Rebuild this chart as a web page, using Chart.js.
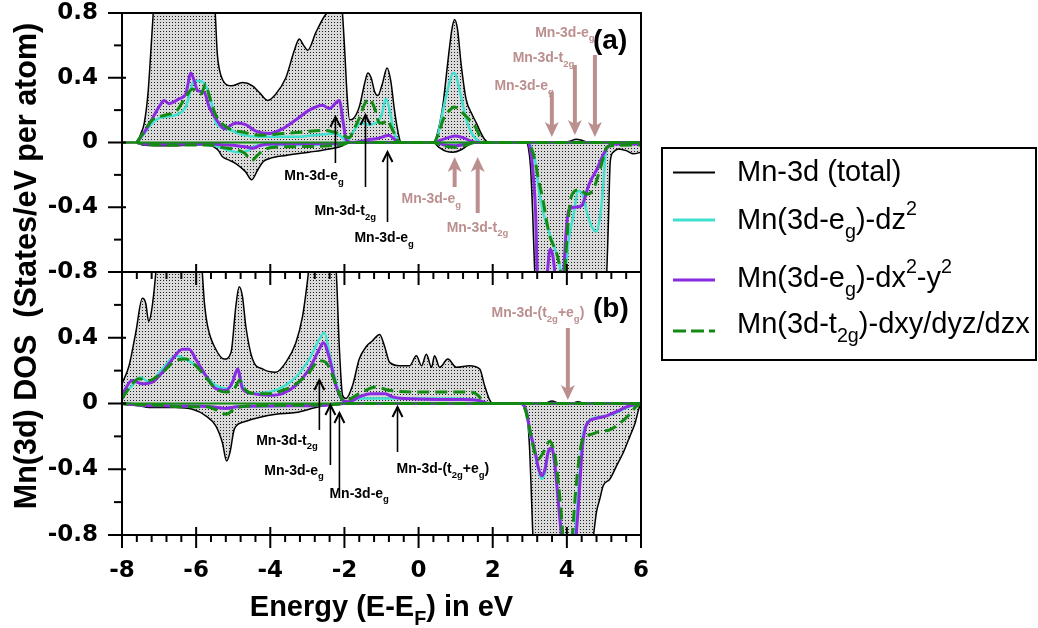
<!DOCTYPE html>
<html><head><meta charset="utf-8">
<script src="https://cdn.jsdelivr.net/npm/chart.js@4.4.0/dist/chart.umd.min.js"></script>
<style>
html,body{margin:0;padding:0;background:#fff;}
#wrap{position:relative;width:1038px;height:628px;overflow:hidden;}
canvas{position:absolute;left:0;top:0;}
</style></head><body>
<div id="wrap"><canvas id="ca" width="1038" height="628"></canvas><canvas id="cb" width="1038" height="628"></canvas></div>
<script>
// ---------- tick labels ----------
const xTicks = [-8, -6, -4, -2, 0, 2, 4, 6];
const yTicksA = [0.8, 0.4, 0, -0.4, -0.8];
const yTicksB = [0.4, 0, -0.4, -0.8];
const seriesNames = ['Mn-3d (total)', 'Mn(3d-eg)-dz2', 'Mn(3d-eg)-dx2-y2', 'Mn(3d-t2g)-dxy/dyz/dzx'];

// ---------- panel (a) : [energy eV, DOS] ----------
const aTotalUp = [[-8,0],[-7.6,0],[-7.5,0.05],[-7.4,0.12],[-7.3,0.3],[-7.22,0.57],[-7.15,0.82],[-7.0,1.15],[-6.5,1.3],[-6.0,1.3],[-5.6,1.1],[-5.49,0.82],[-5.43,0.55],[-5.38,0.46],[-5.24,0.37],[-5.05,0.35],[-4.75,0.37],[-4.48,0.35],[-4.3,0.31],[-4.07,0.26],[-3.85,0.30],[-3.58,0.40],[-3.35,0.57],[-3.22,0.64],[-3.1,0.6],[-2.99,0.57],[-2.77,0.68],[-2.54,0.78],[-2.36,0.83],[-2.2,0.9],[-2.08,0.86],[-2.0,0.6],[-1.93,0.3],[-1.86,0.14],[-1.75,0.15],[-1.6,0.22],[-1.45,0.37],[-1.37,0.43],[-1.28,0.4],[-1.18,0.31],[-1.1,0.29],[-0.98,0.36],[-0.85,0.46],[-0.75,0.38],[-0.65,0.2],[-0.55,0.06],[-0.47,0],[0.4,0],[0.5,0.05],[0.65,0.22],[0.8,0.52],[0.9,0.7],[0.97,0.76],[1.05,0.7],[1.15,0.48],[1.28,0.27],[1.45,0.17],[1.56,0.12],[1.68,0.06],[1.78,0.02],[1.9,0],[3.9,0],[4.1,0.01],[4.25,0.02],[4.45,0.01],[4.6,0],[6,0]];
const aTotalDn = [[-8,0],[-7.6,0],[-7.45,-0.015],[-7.0,-0.02],[-6.5,-0.02],[-6.0,-0.015],[-5.6,-0.02],[-5.4,-0.05],[-5.29,-0.088],[-5.1,-0.11],[-4.93,-0.13],[-4.67,-0.18],[-4.5,-0.23],[-4.34,-0.17],[-4.2,-0.12],[-4.03,-0.1],[-3.58,-0.08],[-2.95,-0.06],[-2.41,-0.04],[-2.05,-0.02],[-1.9,0],[0.4,0],[0.55,-0.03],[0.75,-0.055],[0.93,-0.06],[1.15,-0.045],[1.35,-0.015],[1.5,0],[2.9,0],[2.96,-0.03],[3.02,-0.15],[3.08,-0.45],[3.14,-0.85],[3.25,-1.2],[4.0,-1.4],[4.9,-1.2],[5.05,-0.95],[5.12,-0.5],[5.17,-0.12],[5.25,-0.06],[5.4,-0.04],[5.6,-0.05],[5.8,-0.07],[6,-0.06]];
const aDz2Up = [[-7.6,0],[-7.45,0.04],[-7.27,0.096],[-7.0,0.15],[-6.55,0.17],[-6.28,0.22],[-6.05,0.38],[-5.92,0.38],[-5.74,0.35],[-5.6,0.26],[-5.47,0.12],[-5.11,0.08],[-4.75,0.047],[-4.3,0.035],[-3.31,0.035],[-2.6,0.05],[-2.23,0.055],[-2.05,0.03],[-1.955,0.01],[-1.85,0.03],[-1.7,0.09],[-1.55,0.12],[-1.35,0.11],[-1.15,0.12],[-1.0,0.17],[-0.88,0.27],[-0.78,0.2],[-0.68,0.08],[-0.55,0.01],[-0.47,0],[0.4,0],[0.5,0.03],[0.66,0.2],[0.8,0.34],[0.93,0.43],[1.0,0.42],[1.11,0.32],[1.29,0.14],[1.45,0.05],[1.56,0.02],[1.7,0],[6,0]];
const aDz2Dn = [[-7.6,0],[-7.4,-0.01],[-6.5,-0.01],[-5.6,-0.015],[-5.35,-0.03],[-5.1,-0.05],[-4.85,-0.06],[-4.6,-0.05],[-4.45,-0.025],[-4.2,-0.015],[-3.0,-0.015],[-2.1,-0.01],[-1.9,0],[0.4,0],[0.6,-0.01],[1.0,-0.015],[1.4,0],[2.95,0],[3.05,-0.03],[3.15,-0.12],[3.25,-0.3],[3.35,-0.42],[3.5,-0.54],[3.65,-0.64],[3.8,-0.75],[3.9,-0.9],[3.96,-0.8],[4.05,-0.6],[4.17,-0.46],[4.31,-0.3],[4.44,-0.33],[4.55,-0.44],[4.7,-0.53],[4.8,-0.55],[4.9,-0.45],[4.97,-0.3],[5.05,-0.06],[5.15,-0.02],[5.3,-0.01],[6,-0.01]];
const aDx2Up = [[-7.6,0],[-7.35,0.08],[-7.0,0.22],[-6.865,0.26],[-6.73,0.24],[-6.46,0.27],[-6.28,0.30],[-6.14,0.43],[-6.05,0.38],[-5.96,0.32],[-5.78,0.31],[-5.65,0.22],[-5.42,0.13],[-5.24,0.085],[-4.93,0.12],[-4.66,0.11],[-4.39,0.07],[-4.03,0.055],[-3.67,0.085],[-3.31,0.14],[-2.95,0.20],[-2.59,0.23],[-2.41,0.21],[-2.14,0.26],[-2.03,0.12],[-1.955,0.02],[-1.8,0],[-1.5,0.01],[-1.3,0.02],[-1.1,0.025],[-0.9,0.04],[-0.8,0.045],[-0.65,0.02],[-0.5,0],[0.45,0],[0.6,0.015],[0.8,0.03],[1.0,0.04],[1.2,0.03],[1.4,0.01],[1.6,0],[6,0]];
const aDx2Dn = [[-7.6,0],[-7.4,-0.01],[-5.6,-0.01],[-5.2,-0.015],[-4.9,-0.02],[-4.6,-0.03],[-4.45,-0.035],[-4.3,-0.02],[-4.0,-0.01],[-2.0,-0.005],[-1.9,0],[0.5,0],[0.7,-0.015],[1.0,-0.02],[1.3,-0.01],[1.5,0],[2.95,0],[3.02,-0.05],[3.1,-0.22],[3.16,-0.45],[3.2,-0.8],[3.28,-1.0],[3.45,-0.85],[3.55,-0.66],[3.62,-0.7],[3.7,-0.85],[3.8,-1.0],[3.9,-0.85],[3.98,-0.55],[4.05,-0.42],[4.2,-0.4],[4.4,-0.39],[4.5,-0.33],[4.58,-0.27],[4.7,-0.21],[4.8,-0.17],[4.95,-0.09],[5.1,-0.03],[5.3,-0.01],[6,-0.01]];
const aT2gUp = [[-7.6,0],[-7.4,0.07],[-7.18,0.14],[-6.82,0.17],[-6.55,0.19],[-6.28,0.28],[-6.1,0.33],[-5.87,0.30],[-5.74,0.36],[-5.65,0.29],[-5.47,0.17],[-5.11,0.085],[-4.75,0.065],[-4.3,0.045],[-3.67,0.055],[-3.13,0.065],[-2.59,0.075],[-2.14,0.055],[-1.865,0.03],[-1.75,0.08],[-1.6,0.15],[-1.45,0.24],[-1.33,0.27],[-1.2,0.22],[-1.05,0.12],[-0.95,0.12],[-0.85,0.14],[-0.75,0.1],[-0.62,0.04],[-0.5,0],[0.4,0],[0.55,0.06],[0.66,0.14],[0.8,0.19],[0.97,0.22],[1.1,0.2],[1.29,0.16],[1.45,0.12],[1.55,0.09],[1.69,0.02],[1.8,0],[6,0]];
const aT2gDn = [[-7.6,0],[-7.4,-0.01],[-6.5,-0.015],[-5.6,-0.015],[-5.3,-0.03],[-4.9,-0.045],[-4.7,-0.065],[-4.5,-0.11],[-4.35,-0.08],[-4.2,-0.05],[-3.9,-0.03],[-3.0,-0.025],[-2.4,-0.02],[-2.0,-0.01],[-1.9,0],[0.4,0],[0.6,-0.015],[0.95,-0.03],[1.3,-0.015],[1.5,0],[2.95,0],[3.05,-0.04],[3.15,-0.12],[3.22,-0.21],[3.36,-0.36],[3.45,-0.48],[3.54,-0.58],[3.72,-0.68],[3.82,-0.78],[3.9,-0.9],[4.0,-0.6],[4.08,-0.38],[4.17,-0.31],[4.35,-0.29],[4.53,-0.32],[4.71,-0.29],[4.89,-0.17],[5.0,-0.08],[5.07,-0.03],[5.2,-0.02],[6,-0.015]];

// ---------- panel (b) ----------
const bTotalUp = [[-8,0.12],[-7.81,0.23],[-7.63,0.43],[-7.45,0.64],[-7.36,0.61],[-7.28,0.5],[-7.18,0.6],[-7.07,0.85],[-7.0,1.1],[-6.5,1.4],[-6.0,1.2],[-5.85,0.85],[-5.78,0.62],[-5.69,0.47],[-5.47,0.33],[-5.24,0.27],[-5.06,0.31],[-4.93,0.59],[-4.84,0.71],[-4.75,0.65],[-4.66,0.47],[-4.48,0.27],[-4.21,0.21],[-3.85,0.19],[-3.58,0.25],[-3.31,0.37],[-3.13,0.53],[-2.99,0.76],[-2.9,0.95],[-2.6,1.2],[-2.3,1.0],[-2.22,0.8],[-2.135,0.33],[-2.05,0.05],[-1.955,0.03],[-1.78,0.11],[-1.6,0.27],[-1.4,0.35],[-1.25,0.38],[-1.05,0.42],[-0.92,0.35],[-0.78,0.25],[-0.51,0.23],[-0.24,0.23],[-0.06,0.29],[0.08,0.23],[0.21,0.3],[0.35,0.22],[0.43,0.29],[0.57,0.22],[0.79,0.27],[1.02,0.22],[1.38,0.23],[1.65,0.21],[1.78,0.11],[1.92,0.02],[2.0,0],[3.4,0],[3.6,0.015],[3.8,0],[4.1,0],[4.3,0.01],[4.5,0],[6,0]];
const bTotalDn = [[-8,-0.005],[-7.54,-0.014],[-7.27,-0.024],[-6.6,-0.025],[-6.1,-0.035],[-5.74,-0.075],[-5.47,-0.136],[-5.29,-0.24],[-5.18,-0.35],[-5.09,-0.30],[-4.97,-0.156],[-4.75,-0.115],[-4.3,-0.085],[-3.85,-0.065],[-3.31,-0.055],[-2.77,-0.024],[-2.41,-0.008],[-2.05,0],[2.75,0],[2.85,-0.02],[2.91,-0.055],[2.96,-0.15],[3.0,-0.3],[3.05,-0.6],[3.09,-0.85],[3.15,-1.1],[4.0,-1.3],[4.6,-1.0],[4.72,-0.8],[4.8,-0.66],[4.89,-0.58],[4.98,-0.5],[5.16,-0.46],[5.34,-0.38],[5.52,-0.3],[5.7,-0.2],[5.84,-0.12],[5.97,-0.014],[6,-0.01]];
const bDz2Up = [[-8,0.04],[-7.72,0.11],[-7.5,0.16],[-7.27,0.13],[-6.91,0.21],[-6.55,0.29],[-6.28,0.27],[-6.01,0.23],[-5.74,0.17],[-5.47,0.11],[-5.11,0.09],[-4.88,0.21],[-4.75,0.11],[-4.48,0.06],[-4.03,0.07],[-3.67,0.10],[-3.31,0.16],[-2.95,0.27],[-2.68,0.39],[-2.54,0.43],[-2.41,0.31],[-2.23,0.13],[-2.05,0.02],[-1.9,0.01],[-1.6,0.03],[-1.0,0.03],[0,0.03],[1.0,0.03],[1.6,0.02],[1.9,0],[6,0]];
const bDz2Dn = [[-8,0],[-7.5,-0.01],[-6.5,-0.015],[-5.6,-0.02],[-5.2,-0.03],[-4.9,-0.02],[-4.0,-0.015],[-2.5,-0.01],[-2.0,0],[2.75,0],[2.9,-0.05],[3.0,-0.18],[3.14,-0.3],[3.23,-0.4],[3.32,-0.46],[3.41,-0.42],[3.5,-0.3],[3.59,-0.27],[3.68,-0.38],[3.77,-0.58],[3.86,-0.8],[3.95,-1.0],[4.1,-1.0],[4.22,-0.8],[4.31,-0.54],[4.4,-0.24],[4.53,-0.125],[4.8,-0.085],[5.07,-0.075],[5.34,-0.055],[5.61,-0.025],[5.88,-0.005],[6,0]];
const bDx2Up = [[-8,0.05],[-7.73,0.14],[-7.46,0.12],[-7.18,0.13],[-6.91,0.19],[-6.64,0.27],[-6.37,0.33],[-6.19,0.33],[-6.01,0.27],[-5.74,0.17],[-5.47,0.09],[-5.2,0.08],[-5.02,0.13],[-4.88,0.21],[-4.75,0.09],[-4.48,0.06],[-4.03,0.05],[-3.67,0.06],[-3.31,0.11],[-2.95,0.21],[-2.68,0.33],[-2.57,0.37],[-2.41,0.28],[-2.23,0.11],[-2.05,0.02],[-1.9,0.01],[-1.6,0.04],[-1.3,0.06],[-0.9,0.06],[-0.7,0.04],[-0.4,0.03],[0.5,0.025],[1.2,0.025],[1.6,0.02],[1.9,0],[6,0]];
const bDx2Dn = [[-8,0],[-7.5,-0.01],[-6.5,-0.015],[-5.6,-0.02],[-5.2,-0.03],[-4.9,-0.02],[-4.0,-0.015],[-2.5,-0.01],[-2.0,0],[2.75,0],[2.9,-0.04],[3.0,-0.16],[3.14,-0.29],[3.23,-0.39],[3.32,-0.44],[3.41,-0.4],[3.5,-0.29],[3.59,-0.27],[3.68,-0.38],[3.77,-0.6],[3.86,-0.82],[3.95,-1.0],[4.15,-1.0],[4.25,-0.8],[4.33,-0.56],[4.42,-0.26],[4.53,-0.13],[4.8,-0.09],[5.07,-0.075],[5.34,-0.05],[5.61,-0.02],[5.88,-0.005],[6,0]];
const bT2gUp = [[-8,0.03],[-7.82,0.09],[-7.55,0.15],[-7.27,0.14],[-6.91,0.19],[-6.55,0.26],[-6.28,0.27],[-6.01,0.23],[-5.74,0.16],[-5.47,0.09],[-5.2,0.07],[-4.97,0.09],[-4.83,0.14],[-4.66,0.08],[-4.39,0.06],[-4.03,0.06],[-3.67,0.08],[-3.3,0.12],[-2.95,0.19],[-2.68,0.26],[-2.5,0.25],[-2.32,0.17],[-2.14,0.06],[-2.0,0.015],[-1.6,0.06],[-1.15,0.1],[-0.8,0.08],[0,0.07],[1.0,0.07],[1.4,0.07],[1.6,0.05],[1.75,0.01],[1.85,0],[6,0]];
const bT2gDn = [[-8,0],[-7.8,-0.005],[-7.0,-0.01],[-6.3,-0.02],[-5.7,-0.02],[-5.45,-0.04],[-5.18,-0.065],[-4.95,-0.03],[-4.6,-0.015],[-3.0,-0.01],[-2.2,-0.005],[-2.0,0],[2.75,0],[2.88,-0.04],[3.0,-0.16],[3.135,-0.3],[3.225,-0.34],[3.36,-0.3],[3.54,-0.23],[3.68,-0.32],[3.77,-0.48],[3.86,-0.7],[3.92,-0.9],[4.05,-1.0],[4.15,-0.8],[4.22,-0.58],[4.35,-0.3],[4.44,-0.21],[4.62,-0.19],[4.89,-0.17],[5.16,-0.16],[5.43,-0.12],[5.7,-0.065],[5.88,-0.015],[6,-0.005]];

// ---------- annotations (arrow energy, arrow start/end DOS, label position) ----------
const annA = [
  {x:-2.243, from:-0.127, to:0.158, c:'k', lab:[['Mn-3d-e',0],['g',1]], lx:-3.62, ly:-0.232, al:'left'},
  {x:-1.432, from:-0.275, to:0.17, c:'k', lab:[['Mn-3d-t',0],['2g',1]], lx:-2.81, ly:-0.448, al:'left'},
  {x:-0.838, from:-0.491, to:-0.059, c:'k', lab:[['Mn-3d-e',0],['g',1]], lx:-1.73, ly:-0.615, al:'left'},
  {x:0.973, from:-0.275, to:-0.09, c:'r', lab:[['Mn-3d-e',0],['g',1]], lx:-0.46, ly:-0.374, al:'left'},
  {x:1.595, from:-0.436, to:-0.09, c:'r', lab:[['Mn-3d-t',0],['2g',1]], lx:0.757, ly:-0.553, al:'left'},
  {x:3.595, from:0.312, to:0.034, c:'r', lab:[['Mn-3d-e',0],['g',1]], lx:3.65, ly:0.324, al:'right'},
  {x:4.216, from:0.479, to:0.046, c:'r', lab:[['Mn-3d-t',0],['2g',1]], lx:4.2, ly:0.497, al:'right'},
  {x:4.757, from:0.541, to:0.034, c:'r', lab:[['Mn-3d-e',0],['g',1]], lx:4.75, ly:0.652, al:'right'}
];
const annB = [
  {x:-2.676, from:-0.161, to:0.143, c:'k', lab:[['Mn-3d-t',0],['2g',1]], lx:-4.38, ly:-0.252, al:'left'},
  {x:-2.378, from:-0.374, to:-0.009, c:'k', lab:[['Mn-3d-e',0],['g',1]], lx:-4.16, ly:-0.435, al:'left'},
  {x:-2.135, from:-0.514, to:-0.058, c:'k', lab:[['Mn-3d-e',0],['g',1]], lx:-2.405, ly:-0.575, al:'left'},
  {x:-0.568, from:-0.295, to:-0.021, c:'k', lab:[['Mn-3d-(t',0],['2g',1],['+e',0],['g',1],[')',0]], lx:-0.595, ly:-0.423, al:'left'},
  {x:4.027, from:0.459, to:0.021, c:'r', lab:[['Mn-3d-(t',0],['2g',1],['+e',0],['g',1],[')',0]], lx:1.97, ly:0.526, al:'left'}
];

const C_TOT='#000000', C_DZ='#40E0D0', C_DX='#8A2BE2', C_T2='#138A13', C_ARR='#BC8F8F';
const SANS = '"Liberation Sans", Arial, Helvetica, sans-serif';

function stipple(ctx){
  const c=document.createElement('canvas'); c.width=3; c.height=3;
  const g=c.getContext('2d');
  g.fillStyle='#dadada'; g.fillRect(0,0,3,3);
  g.fillStyle='#1e1e1e'; g.fillRect(1,1,1,1);
  return ctx.createPattern(c,'repeat');
}
const P=(a)=>a.map(([x,y])=>({x,y}));

function buildSets(ctx, tu, td, du, dd, xu, xd, gu, gd){
  const pat = stipple(ctx);
  const base = {pointRadius:0, cubicInterpolationMode:'monotone'};
  return [
    {...base, order:8, label:seriesNames[0], data:P(tu), borderColor:C_TOT, borderWidth:1.5, fill:'origin', backgroundColor:pat},
    {...base, order:7, label:seriesNames[0]+' dn', data:P(td), borderColor:C_TOT, borderWidth:1.5, fill:'origin', backgroundColor:pat},
    {...base, order:6, label:seriesNames[1], data:P(du), borderColor:C_DZ, borderWidth:2.5, fill:false},
    {...base, order:5, label:seriesNames[1]+' dn', data:P(dd), borderColor:C_DZ, borderWidth:2.5, fill:false},
    {...base, order:4, label:seriesNames[2], data:P(xu), borderColor:C_DX, borderWidth:3, fill:false},
    {...base, order:3, label:seriesNames[2]+' dn', data:P(xd), borderColor:C_DX, borderWidth:3, fill:false},
    {...base, order:2, label:seriesNames[3], data:P(gu), borderColor:C_T2, borderWidth:3, borderDash:[12,6], fill:false},
    {...base, order:1, label:seriesNames[3]+' dn', data:P(gd), borderColor:C_T2, borderWidth:3, borderDash:[12,6], borderDashOffset:6, fill:false}
  ];
}

function drawRich(ctx, parts, x, y, size, color, weight, align){
  const f=(s)=>weight+' '+s+'px '+SANS;
  let w=0;
  for(const [t,k] of parts){ ctx.font=f(k?size*0.68:size); w+=ctx.measureText(t).width; }
  let cx = align==='right'? x-w : (align==='center'? x-w/2 : x);
  ctx.fillStyle=color; ctx.textAlign='left'; ctx.textBaseline='alphabetic';
  for(const [t,k] of parts){
    const s=k?size*0.68:size; ctx.font=f(s);
    const dy = k===1? size*0.32 : (k===2? -size*0.48 : 0);
    ctx.fillText(t,cx,y+dy); cx+=ctx.measureText(t).width;
  }
}

function arrow(ctx, x, y1, y2, kind){
  const dir = y2<y1 ? -1 : 1;
  ctx.save();
  if(kind==='k'){
    ctx.strokeStyle='#000'; ctx.lineWidth=1.6;
    ctx.beginPath(); ctx.moveTo(x,y1); ctx.lineTo(x,y2); ctx.stroke();
    ctx.lineWidth=2;
    ctx.beginPath(); ctx.moveTo(x-5,y2-dir*10); ctx.lineTo(x,y2); ctx.lineTo(x+5,y2-dir*10); ctx.stroke();
  } else {
    ctx.strokeStyle=C_ARR; ctx.fillStyle=C_ARR; ctx.lineWidth=4;
    ctx.beginPath(); ctx.moveTo(x,y1); ctx.lineTo(x,y2-dir*8); ctx.stroke();
    ctx.beginPath(); ctx.moveTo(x,y2); ctx.lineTo(x-7,y2-dir*15); ctx.lineTo(x,y2-dir*11); ctx.lineTo(x+7,y2-dir*15); ctx.closePath(); ctx.fill();
  }
  ctx.restore();
}

function framePlugin(panel){
  return {
    id:'frame'+panel,
    afterDatasetsDraw(chart){
      const {ctx, chartArea:a, scales:{x,y}} = chart;
      ctx.save();
      const y0=y.getPixelForValue(0);
      ctx.strokeStyle=C_T2; ctx.lineWidth=2;
      ctx.beginPath(); ctx.moveTo(a.left,y0); ctx.lineTo(a.right,y0); ctx.stroke();
      ctx.strokeStyle='#000'; ctx.lineWidth=2;
      ctx.strokeRect(a.left,a.top,a.right-a.left,a.bottom-a.top);
      for(let i=0;i<=8;i++){
        const v=-0.8+i*0.2;
        const py=y.getPixelForValue(v);
        const major = i%2===0;
        ctx.beginPath();
        if(major){ ctx.moveTo(a.left-14,py); ctx.lineTo(a.left+4,py); }
        else { ctx.moveTo(a.left-8,py); ctx.lineTo(a.left,py); }
        ctx.stroke();
      }
      const edges = panel==='b' ? [a.top, a.bottom] : [];
      for(const e of edges){
        for(let i=0;i<=35;i++){
          const v=-8+i*0.4; const px=x.getPixelForValue(v);
          const major = i%5===0;
          ctx.beginPath();
          if(major){ ctx.moveTo(px,e-8); ctx.lineTo(px,e+13); }
          else { ctx.moveTo(px,e); ctx.lineTo(px,e+7); }
          ctx.stroke();
        }
      }
      const ann = panel==='a'? annA : annB;
      for(const n of ann){
        const px=x.getPixelForValue(n.x);
        arrow(ctx, px, y.getPixelForValue(n.from), y.getPixelForValue(n.to), n.c);
        drawRich(ctx, n.lab, x.getPixelForValue(n.lx), y.getPixelForValue(n.ly), 14, n.c==='k'?'#000':C_ARR, 'bold', n.al);
      }
      drawRich(ctx, [[panel==='a'?'(a)':'(b)',0]], a.right-48, a.top+(panel==='a'?36:45), 28, '#000', 'bold', 'left');
      ctx.restore();
    },
    afterDraw(chart){
      if(panel!=='b') return;
      const {ctx, chartArea:a} = chart;
      ctx.save();
      drawRich(ctx, [['Energy (E-E',0],['F',1],[') in eV',0]], (a.left+a.right)/2, 616, 29, '#000', 'bold', 'center');
      ctx.translate(36, 266); ctx.rotate(-Math.PI/2);
      drawRich(ctx, [['Mn(3d) DOS  (States/eV per atom)',0]], 0, 0, 30.5, '#000', 'bold', 'center');
      ctx.restore();
      ctx.save();
      ctx.strokeStyle='#000'; ctx.lineWidth=2;
      ctx.strokeRect(662,148,374,212);
      const rows = [
        {col:C_TOT, ly:172.5, ty:181, dash:null, w:2, txt:[['Mn-3d (total)',0]]},
        {col:C_DZ, ly:220, ty:229, dash:null, w:3, txt:[['Mn(3d-e',0],['g',1],[')-dz',0],['2',2]]},
        {col:C_DX, ly:280, ty:287, dash:null, w:3, txt:[['Mn(3d-e',0],['g',1],[')-dx',0],['2',2],['-y',0],['2',2]]},
        {col:C_T2, ly:331, ty:333, dash:[13,5], w:3, txt:[['Mn(3d-t',0],['2g',1],[')-dxy/dyz/dzx',0]]}
      ];
      for(const r of rows){
        ctx.strokeStyle=r.col; ctx.lineWidth=r.w; ctx.setLineDash(r.dash||[]);
        ctx.beginPath(); ctx.moveTo(673,r.ly); ctx.lineTo(715,r.ly); ctx.stroke();
        ctx.setLineDash([]);
        drawRich(ctx, r.txt, 737, r.ty, 29, '#000', 'normal', 'left');
      }
      ctx.restore();
    }
  };
}

function makeChart(id, panel, sets, yTicks, pad, xHeight){
  const tickFont = {family:'"DejaVu Sans", sans-serif', weight:'bold', size:23, lineHeight:1};
  return new Chart(document.getElementById(id), {
    type:'line',
    data:{datasets:sets},
    options:{
      responsive:false, animation:false, devicePixelRatio:1,
      layout:{padding:pad},
      plugins:{legend:{display:false}, tooltip:{enabled:false}, title:{display:false}},
      scales:{
        x:{type:'linear', min:-8, max:6, display:true,
           grid:{display:false, drawTicks:false}, border:{display:false},
           ticks:{display: panel==='b', font:tickFont, color:'#000', padding:25, maxRotation:0, autoSkip:false,
                  callback:(v)=>String(v)},
           afterBuildTicks:(s)=>{ s.ticks = xTicks.map(v=>({value:v})); },
           afterFit:(s)=>{ s.height = xHeight; s.paddingLeft = 0; s.paddingRight = 0; }},
        y:{type:'linear', min:-0.8, max:0.8,
           grid:{display:false, drawTicks:false}, border:{display:false},
           ticks:{font:tickFont, color:'#000', padding:24, autoSkip:false,
                  callback:(v)=> v===0 ? '0' : Number(v).toFixed(1)},
           afterBuildTicks:(s)=>{ s.ticks = yTicks.map(v=>({value:v})); },
           afterFit:(s)=>{ s.width = 122; s.paddingTop = 0; s.paddingBottom = 0; }}
      }
    },
    plugins:[framePlugin(panel)]
  });
}

const ctxA=document.getElementById('ca').getContext('2d');
const ctxB=document.getElementById('cb').getContext('2d');
makeChart('ca','a', buildSets(ctxA, aTotalUp,aTotalDn,aDz2Up,aDz2Dn,aDx2Up,aDx2Dn,aT2gUp,aT2gDn), yTicksA, {left:0,right:397,top:13,bottom:0}, 356);
makeChart('cb','b', buildSets(ctxB, bTotalUp,bTotalDn,bDz2Up,bDz2Dn,bDx2Up,bDx2Dn,bT2gUp,bT2gDn), yTicksB, {left:0,right:397,top:272,bottom:0}, 93);
</script>
</body></html>
